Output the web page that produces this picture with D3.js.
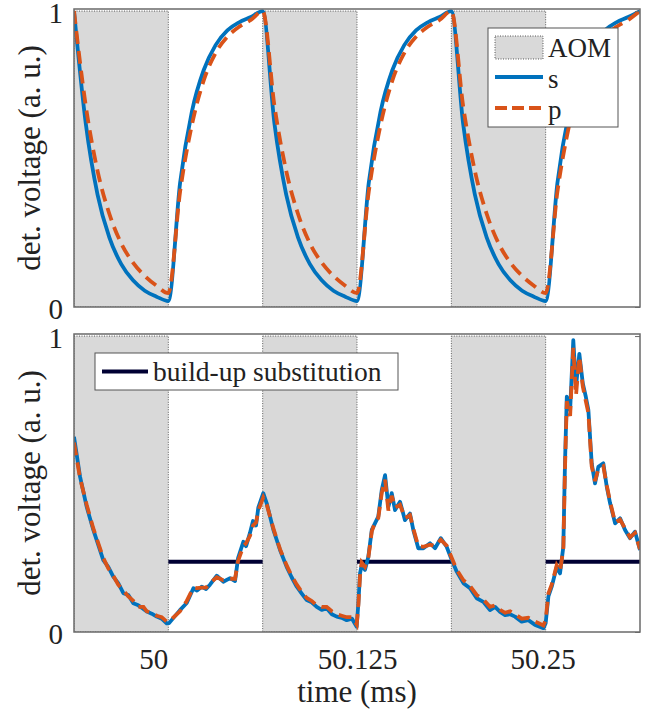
<!DOCTYPE html>
<html>
<head>
<meta charset="utf-8">
<script src="https://cdn.jsdelivr.net/npm/d3@7"></script>
<style>
  body { margin: 0; background: #fff; }
  svg text { font-family: "Liberation Serif", "Times New Roman", "DejaVu Serif", serif !important; fill: #222; }
</style>
</head>
<body>
<div id="chart"></div>
<script>
// top panel: simulated signals (ms, a.u.)
var tTop = [49.9375, 49.9453, 49.9531, 49.9609, 49.9688, 49.9766, 49.9844, 49.9922, 50.0000,
  50.0078, 50.0156, 50.0234, 50.0313, 50.0391, 50.0469, 50.0547, 50.0625,
  50.0703, 50.0781, 50.0859, 50.0938, 50.1016, 50.1094, 50.1172, 50.1250,
  50.1328, 50.1406, 50.1484, 50.1563, 50.1641, 50.1719, 50.1797, 50.1875,
  50.1953, 50.2031, 50.2109, 50.2188, 50.2266, 50.2344, 50.2422, 50.2500,
  50.2578, 50.2656, 50.2734, 50.2813, 50.2891, 50.2969, 50.3047, 50.3125];
var sTop = [1.0, 0.62, 0.38, 0.235, 0.145, 0.09, 0.055, 0.035, 0.02,
  0.42, 0.66, 0.80, 0.885, 0.935, 0.962, 0.98, 1.0,
  0.62, 0.38, 0.235, 0.145, 0.09, 0.055, 0.035, 0.02,
  0.42, 0.66, 0.80, 0.885, 0.935, 0.962, 0.98, 1.0,
  0.62, 0.38, 0.235, 0.145, 0.09, 0.055, 0.035, 0.02,
  0.42, 0.66, 0.80, 0.885, 0.935, 0.962, 0.98, 1.0];
var pTop = [1.0, 0.68, 0.46, 0.315, 0.215, 0.15, 0.105, 0.072, 0.047,
  0.39, 0.615, 0.765, 0.858, 0.913, 0.947, 0.97, 1.0,
  0.68, 0.46, 0.315, 0.215, 0.15, 0.105, 0.072, 0.047,
  0.39, 0.615, 0.765, 0.858, 0.913, 0.947, 0.97, 1.0,
  0.68, 0.46, 0.315, 0.215, 0.15, 0.105, 0.072, 0.047,
  0.39, 0.615, 0.765, 0.858, 0.913, 0.947, 0.97, 1.0];

// bottom panel: measured signals
var tBot = [49.9375, 49.9415, 49.9459, 49.9503, 49.9569, 49.9602, 49.9635, 49.9668, 49.9702, 49.9735,
  49.9768, 49.9801, 49.9835, 49.9857, 49.9890, 49.9923, 49.9956, 49.9989, 50.0005,
  50.0077, 50.0122, 50.0166, 50.0190, 50.0221, 50.0250, 50.0276, 50.0321, 50.0364, 50.0409,
  50.0442, 50.0462, 50.0497, 50.0515, 50.0541, 50.0561, 50.0581, 50.0596, 50.0629,
  50.0652, 50.0696, 50.0740, 50.0784, 50.0817, 50.0851, 50.0884, 50.0917, 50.0950, 50.0983,
  50.1016, 50.1049, 50.1083, 50.1116, 50.1149, 50.1182, 50.1217, 50.1248,
  50.1259, 50.1270, 50.1281, 50.1303, 50.1325, 50.1348, 50.1369, 50.1391, 50.1414, 50.1436,
  50.1458, 50.1480, 50.1502, 50.1535, 50.1568, 50.1601, 50.1623, 50.1656, 50.1690, 50.1734,
  50.1767, 50.1805, 50.1844, 50.1878,
  50.1911, 50.1955, 50.1999, 50.2043, 50.2087, 50.2131, 50.2165, 50.2198, 50.2231, 50.2264,
  50.2297, 50.2341, 50.2385, 50.2430, 50.2485,
  50.2500, 50.2518, 50.2540, 50.2573, 50.2595, 50.2617, 50.2628, 50.2640, 50.2662, 50.2683,
  50.2701, 50.2723, 50.2746, 50.2766, 50.2783, 50.2805, 50.2827, 50.2849, 50.2882, 50.2905,
  50.2927, 50.2960, 50.2993, 50.3026, 50.3059, 50.3092, 50.3125];
var sBot = [0.66, 0.525, 0.423, 0.345, 0.243, 0.22, 0.187, 0.165, 0.131, 0.125,
  0.097, 0.09, 0.078, 0.069, 0.062, 0.052, 0.045, 0.029, 0.03,
  0.074, 0.098, 0.148, 0.14, 0.153, 0.145, 0.16, 0.19, 0.17, 0.182,
  0.172, 0.25, 0.305, 0.29, 0.335, 0.375, 0.36, 0.42, 0.469,
  0.435, 0.345, 0.277, 0.22, 0.185, 0.153, 0.13, 0.108, 0.1, 0.085,
  0.075, 0.08, 0.06, 0.052, 0.048, 0.04, 0.045, 0.018,
  0.097, 0.198, 0.226, 0.21, 0.254, 0.345, 0.367, 0.39, 0.48, 0.53,
  0.423, 0.469, 0.412, 0.44, 0.378, 0.40, 0.345, 0.283, 0.283, 0.30,
  0.283, 0.317, 0.288, 0.243,
  0.204, 0.165, 0.148, 0.114, 0.102, 0.074, 0.085, 0.068, 0.057, 0.06,
  0.052, 0.035, 0.04, 0.024, 0.013,
  0.03, 0.12, 0.153, 0.22, 0.198, 0.288, 0.57, 0.795, 0.75, 0.986,
  0.829, 0.94, 0.84, 0.795, 0.75, 0.57, 0.502, 0.558, 0.57, 0.49,
  0.435, 0.367, 0.384, 0.345, 0.317, 0.339, 0.277];
var pBot = [0.64, 0.52, 0.43, 0.35, 0.25, 0.215, 0.19, 0.16, 0.14, 0.12,
  0.105, 0.085, 0.085, 0.07, 0.065, 0.055, 0.05, 0.035, 0.035,
  0.07, 0.105, 0.15, 0.148, 0.15, 0.15, 0.165, 0.185, 0.175, 0.18,
  0.18, 0.24, 0.29, 0.3, 0.325, 0.36, 0.37, 0.41, 0.455,
  0.43, 0.35, 0.28, 0.225, 0.19, 0.16, 0.135, 0.115, 0.105, 0.09,
  0.085, 0.085, 0.07, 0.06, 0.055, 0.05, 0.05, 0.025,
  0.09, 0.19, 0.235, 0.22, 0.25, 0.34, 0.37, 0.385, 0.47, 0.515,
  0.41, 0.46, 0.42, 0.43, 0.385, 0.395, 0.35, 0.29, 0.288, 0.295,
  0.29, 0.312, 0.292, 0.25,
  0.21, 0.175, 0.155, 0.125, 0.11, 0.085, 0.09, 0.075, 0.065, 0.07,
  0.06, 0.045, 0.048, 0.035, 0.022,
  0.04, 0.13, 0.16, 0.225, 0.205, 0.28, 0.55, 0.78, 0.73, 0.96,
  0.80, 0.93, 0.83, 0.78, 0.74, 0.56, 0.51, 0.55, 0.56, 0.495,
  0.44, 0.37, 0.38, 0.35, 0.32, 0.335, 0.28];

// AOM on intervals and build-up substitution level
var aomStart = [49.9375, 50.0625, 50.1875];
var aomEnd = [50.0, 50.125, 50.25];
var subStart = [50.0, 50.125, 50.25];
var subEnd = [50.0625, 50.1875, 50.3125];
var subLevel = 0.237;

var xTicks = [50, 50.125, 50.25];
var xTickLabels = ["50", "50.125", "50.25"];
var yTicks = [0, 1];

var svgWidth = 660;
var svgHeight = 715;
var left = 74, right = 640;
var serif = '"Liberation Serif", "Times New Roman", "DejaVu Serif", serif';
var panels = [
  {top: 9, bottom: 307, t: tTop, s: sTop, p: pTop, curve: d3.curveMonotoneX, sub: false},
  {top: 334, bottom: 632, t: tBot, s: sBot, p: pBot, curve: d3.curveLinear, sub: true}
];

var blue = "#0072BD", orange = "#D95319", navy = "#000033";
var patchFill = "#d9d9d9";
var dash = "13,7";

var svg = d3.select("#chart")
  .append("svg")
  .attr("width", svgWidth)
  .attr("height", svgHeight)
  .attr("font-family", serif);

var xScale = d3.scaleLinear()
  .domain([49.9375, 50.3125])
  .range([left, right]);

panels.forEach(function(pn, i) {
  var yScale = d3.scaleLinear()
    .domain([0, 1.007])
    .range([pn.bottom, pn.top]);

  svg.append("clipPath")
    .attr("id", "clip" + i)
    .append("rect")
    .attr("x", left)
    .attr("y", pn.top)
    .attr("width", right - left)
    .attr("height", pn.bottom - pn.top);

  var g = svg.append("g").attr("clip-path", "url(#clip" + i + ")");

  // AOM shaded intervals
  g.selectAll(".aom")
    .data(aomStart)
    .enter()
    .append("rect")
    .attr("x", d => xScale(d))
    .attr("y", yScale(1))
    .attr("width", (d, k) => xScale(aomEnd[k]) - xScale(d))
    .attr("height", yScale(0) - yScale(1))
    .attr("fill", patchFill)
    .attr("stroke", "#333")
    .attr("stroke-width", 0.8)
    .attr("stroke-dasharray", "1,1.5");

  if (pn.sub) {
    g.selectAll(".sub")
      .data(subStart)
      .enter()
      .append("line")
      .attr("x1", d => xScale(d))
      .attr("x2", (d, k) => xScale(subEnd[k]))
      .attr("y1", yScale(subLevel))
      .attr("y2", yScale(subLevel))
      .attr("stroke", navy)
      .attr("stroke-width", 4);
  }

  var line = d3.line()
    .x(d => xScale(d[0]))
    .y(d => yScale(d[1]))
    .curve(pn.curve);

  g.append("path")
    .datum(pn.t.map((t, k) => [t, pn.s[k]]))
    .attr("d", line)
    .attr("fill", "none")
    .attr("stroke", blue)
    .attr("stroke-width", 3.8)
    .attr("stroke-linejoin", "round");

  g.append("path")
    .datum(pn.t.map((t, k) => [t, pn.p[k]]))
    .attr("d", line)
    .attr("fill", "none")
    .attr("stroke", orange)
    .attr("stroke-width", 3.8)
    .attr("stroke-dasharray", dash);

  // box
  svg.append("rect")
    .attr("x", left)
    .attr("y", pn.top)
    .attr("width", right - left)
    .attr("height", pn.bottom - pn.top)
    .attr("fill", "none")
    .attr("stroke", "#6a6a6a")
    .attr("stroke-width", 1.5);

  // y axis: labels left, inward ticks on the right
  var yAxis = d3.axisLeft(yScale)
    .tickValues(yTicks)
    .tickFormat(d3.format("d"))
    .tickSize(0)
    .tickPadding(11);
  var ya = svg.append("g")
    .attr("transform", `translate(${left}, 0)`)
    .call(yAxis)
    .attr("font-family", serif);
  ya.select(".domain").remove();
  ya.selectAll("text")
    .attr("dy", "0.4em")
    .style("font-size", "29px");

  svg.append("g")
    .attr("transform", `translate(${right}, 0)`)
    .call(d3.axisRight(yScale).tickValues(yTicks).tickSize(-5).tickFormat(""))
    .call(a => a.select(".domain").remove())
    .selectAll("line").attr("stroke", "#6a6a6a");

  svg.append("text")
    .attr("transform", "rotate(-90)")
    .attr("x", -(pn.top + pn.bottom) / 2)
    .attr("y", 40)
    .style("text-anchor", "middle")
    .style("font-size", "31px")
    .text("det. voltage (a. u.)");

  if (i === 1) {
    var xAxis = d3.axisBottom(xScale)
      .tickValues(xTicks)
      .tickFormat((d, k) => xTickLabels[k])
      .tickSize(0)
      .tickPadding(16);
    var xa = svg.append("g")
      .attr("transform", `translate(0, ${pn.bottom})`)
      .call(xAxis)
      .attr("font-family", serif);
    xa.select(".domain").remove();
    xa.selectAll("text")
      .style("font-size", "29px")
      .attr("dx", (d, k) => k === 0 ? -15 : (k === 2 ? -3 : 0));

    svg.append("text")
      .attr("x", xScale(50.125))
      .attr("y", 702)
      .style("text-anchor", "middle")
      .style("font-size", "31px")
      .text("time (ms)");
  }
});

// legend, top panel
var leg = svg.append("g").attr("transform", "translate(488, 28)");
leg.append("rect")
  .attr("width", 130).attr("height", 99)
  .attr("fill", "#fff").attr("stroke", "#555").attr("stroke-width", 1);
leg.append("rect")
  .attr("x", 7).attr("y", 8).attr("width", 48).attr("height", 23)
  .attr("fill", patchFill).attr("stroke", "#333")
  .attr("stroke-width", 0.8).attr("stroke-dasharray", "1,1.5");
leg.append("line")
  .attr("x1", 7).attr("x2", 55).attr("y1", 49).attr("y2", 49)
  .attr("stroke", blue).attr("stroke-width", 3.8);
leg.append("line")
  .attr("x1", 7).attr("x2", 55).attr("y1", 80).attr("y2", 80)
  .attr("stroke", orange).attr("stroke-width", 3.8).attr("stroke-dasharray", "12,5");
var legLabels = ["AOM", "s", "p"];
leg.selectAll(".lt")
  .data(legLabels)
  .enter()
  .append("text")
  .attr("x", 60)
  .attr("y", (d, k) => 29 + k * 31)
  .style("font-size", "27px")
  .text(d => d);

// legend, bottom panel
var leg2 = svg.append("g").attr("transform", "translate(95, 353)");
leg2.append("rect")
  .attr("width", 303).attr("height", 37)
  .attr("fill", "#fff").attr("stroke", "#555").attr("stroke-width", 1);
leg2.append("line")
  .attr("x1", 7).attr("x2", 53).attr("y1", 18.5).attr("y2", 18.5)
  .attr("stroke", navy).attr("stroke-width", 4);
leg2.append("text")
  .attr("x", 58)
  .attr("y", 28)
  .style("font-size", "27.5px")
  .text("build-up substitution");
</script>
</body>
</html>
